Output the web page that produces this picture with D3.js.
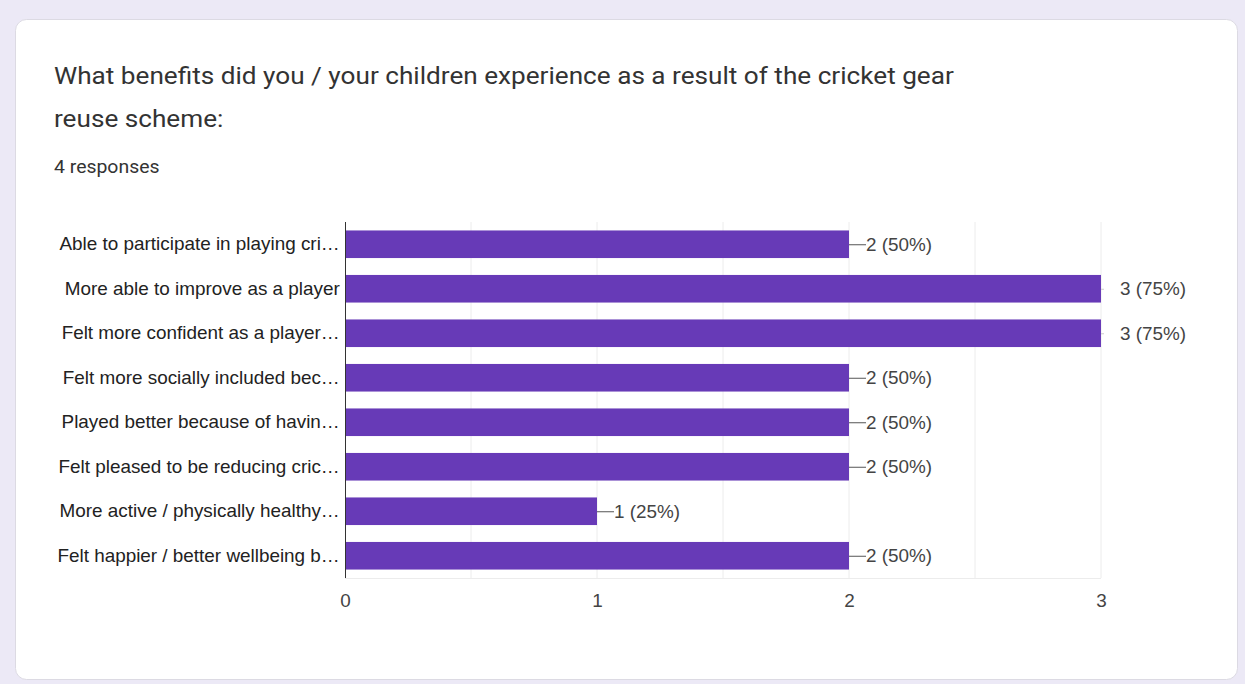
<!DOCTYPE html>
<html>
<head>
<meta charset="utf-8">
<script src="https://cdn.jsdelivr.net/npm/d3@7"></script>
<style>
  html, body { margin: 0; padding: 0; background: #ece9f6; }
  svg { display: block; }
</style>
</head>
<body>
<svg id="chart" width="1245" height="684"></svg>
<script>
// Survey answers, in display order
const categories = [
  "Able to participate in playing cri\u2026",
  "More able to improve as a player",
  "Felt more confident as a player\u2026",
  "Felt more socially included bec\u2026",
  "Played better because of havin\u2026",
  "Felt pleased to be reducing cric\u2026",
  "More active / physically healthy\u2026",
  "Felt happier / better wellbeing b\u2026"
];
const counts = [2, 3, 3, 2, 2, 2, 1, 2];
const totalResponses = 4;
const tickValues = [0, 1, 2, 3];
const gridValues = [0.5, 1, 1.5, 2, 2.5, 3];

// Text is drawn slightly wide, like the form's rendering
const WIDE = "scale(1.05,1)";
const LABEL_FONT = "Liberation Sans, Arial, sans-serif";
const LABEL_SIZE = 18;

const svg = d3.select("#chart");

// Card
svg.append("rect")
  .attr("x", 15.5).attr("y", 19.5)
  .attr("width", 1222).attr("height", 660)
  .attr("rx", 11).attr("ry", 11)
  .attr("fill", "#ffffff")
  .attr("stroke", "#dcdae3").attr("stroke-width", 1);

// Heading
const heading = svg.append("text")
  .attr("transform", "translate(54,0) scale(1.09,1)")
  .attr("font-family", "Roboto, sans-serif")
  .attr("font-size", 24)
  .attr("fill", "#333333");
heading.append("tspan").attr("x", 0).attr("y", 84)
  .text("What benefits did you / your children experience as a result of the cricket gear");
heading.append("tspan").attr("x", 0).attr("y", 127)
  .text("reuse scheme:");

svg.append("text")
  .attr("transform", "translate(54,173) scale(1.08,1)")
  .attr("font-family", "Roboto, sans-serif")
  .attr("font-size", 18)
  .attr("fill", "#333333")
  .text(totalResponses + " responses");

// Plot area
const plotLeft = 345, plotRight = 1101, plotTop = 222, plotBottom = 578;

const x = d3.scaleLinear().domain([0, 3]).range([plotLeft, plotRight]);
const y = d3.scaleBand().domain(categories).range([plotTop, plotBottom]).paddingInner(0.38).paddingOuter(0.19);

const g = svg.append("g");

// Vertical gridlines
g.selectAll("line.grid")
  .data(gridValues)
  .join("line")
  .attr("class", "grid")
  .attr("x1", d => x(d)).attr("x2", d => x(d))
  .attr("y1", plotTop).attr("y2", plotBottom)
  .attr("stroke", "#ececec").attr("stroke-width", 1);

// Bottom border of plot
g.append("line")
  .attr("x1", plotLeft).attr("x2", plotRight)
  .attr("y1", plotBottom + 0.5).attr("y2", plotBottom + 0.5)
  .attr("stroke", "#ececec");

// Bars
g.selectAll("rect.bar")
  .data(categories)
  .join("rect")
  .attr("class", "bar")
  .attr("x", x(0))
  .attr("y", d => y(d))
  .attr("width", (d, i) => x(counts[i]) - x(0))
  .attr("height", y.bandwidth())
  .attr("fill", "#673ab7");

// Value labels with leader lines
const fmt = v => v + " (" + Math.round(v / totalResponses * 100) + "%)";
categories.forEach((c, i) => {
  const v = counts[i];
  const cy = y(c) + y.bandwidth() / 2;
  const atMax = v === 3;
  const x0 = x(v);
  const lineEnd = atMax ? x0 + 3 : x0 + 17;
  g.append("line")
    .attr("x1", x0).attr("x2", lineEnd)
    .attr("y1", cy + 0.5).attr("y2", cy + 0.5)
    .attr("stroke", atMax ? "#cccccc" : "#555555").attr("stroke-width", 1);
  g.append("text")
    .attr("transform", `translate(${atMax ? x0 + 19 : x0 + 17},${cy}) ${WIDE}`)
    .attr("dy", "0.35em")
    .attr("font-family", LABEL_FONT)
    .attr("font-size", LABEL_SIZE)
    .attr("fill", "#444444")
    .text(fmt(v));
});

// Category axis
const yAxis = d3.axisLeft(y).tickSize(0).tickPadding(5);
const ya = svg.append("g").attr("transform", `translate(${plotLeft},0)`).call(yAxis);
ya.select(".domain").remove();
ya.selectAll("text")
  .attr("transform", WIDE)
  .attr("font-family", LABEL_FONT)
  .attr("font-size", LABEL_SIZE)
  .attr("fill", "#222222");

svg.append("line")
  .attr("x1", plotLeft + 0.5).attr("x2", plotLeft + 0.5)
  .attr("y1", plotTop).attr("y2", plotBottom)
  .attr("stroke", "#333333").attr("stroke-width", 1);

// Value axis
const xAxis = d3.axisBottom(x).tickValues(tickValues).tickFormat(d3.format("d")).tickSize(0).tickPadding(16);
const xa = svg.append("g").attr("transform", `translate(0,${plotBottom})`).call(xAxis);
xa.select(".domain").remove();
xa.selectAll("text")
  .attr("transform", WIDE)
  .attr("font-family", LABEL_FONT)
  .attr("font-size", LABEL_SIZE)
  .attr("fill", "#444444");
</script>
</body>
</html>
